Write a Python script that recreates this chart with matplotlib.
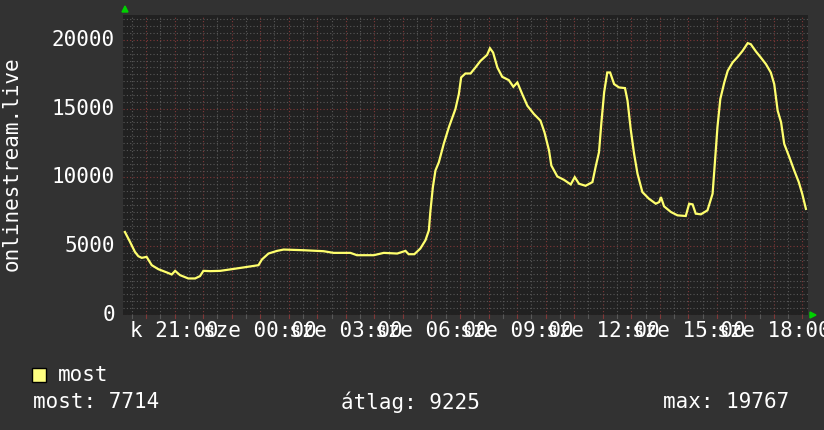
import matplotlib
matplotlib.use("Agg")
import matplotlib.pyplot as plt
from matplotlib.ticker import MultipleLocator, FixedLocator
import numpy as np

# hours relative to midnight (negative = previous day)
hours = [-4.74, -4.56, -4.39, -4.27, -4.15, -3.98, -3.80, -3.57, -3.27, -3.10,
         -2.98, -2.81, -2.52, -2.28, -2.11, -1.99, -1.75, -1.40, -0.99, -0.59,
         -0.06, 0.06, 0.29, 0.59, 0.82, 1.52, 2.22, 2.57, 3.16, 3.39,
         3.98, 4.33, 4.80, 5.09, 5.20, 5.40, 5.61, 5.79, 5.91, 5.96,
         6.05, 6.14, 6.26, 6.43, 6.61, 6.84, 6.96, 7.04, 7.19, 7.37,
         7.54, 7.72, 7.95, 8.05, 8.16, 8.31, 8.48, 8.71, 8.87, 9.01,
         9.18, 9.36, 9.59, 9.82, 9.96, 10.12, 10.20, 10.41, 10.64, 10.88,
         11.02, 11.17, 11.40, 11.64, 11.75, 11.87, 11.95, 12.05, 12.16, 12.26,
         12.40, 12.57, 12.78, 12.87, 12.98, 13.10, 13.22, 13.39, 13.62, 13.86,
         13.98, 14.04, 14.15, 14.39, 14.62, 14.91, 15.03, 15.15, 15.26, 15.44,
         15.67, 15.85, 15.94, 16.02, 16.12, 16.26, 16.38, 16.55, 16.73, 16.90,
         17.08, 17.19, 17.37, 17.54, 17.72, 17.89, 18.01, 18.13, 18.25, 18.36,
         18.54, 18.71, 18.87, 18.99, 19.12]
listeners = [6036, 5312, 4590, 4275, 4155, 4227, 3623, 3333, 3092, 2946,
             3210, 2899, 2657, 2657, 2826, 3210, 3188, 3210, 3333, 3456,
             3623, 4036, 4469, 4662, 4758, 4710, 4638, 4517, 4517, 4348,
             4348, 4517, 4469, 4662, 4420, 4420, 4831, 5435, 6159, 7488,
             9300, 10507, 11111, 12440, 13647, 14975, 16063, 17271, 17560, 17560,
             17995, 18478, 18913, 19396, 19082, 17995, 17319, 17077, 16594, 16908,
             16063, 15217, 14614, 14130, 13285, 11957, 10870, 10072, 9831, 9493,
             10024, 9541, 9396, 9662, 10749, 11836, 13889, 16184, 17633, 17633,
             16787, 16546, 16498, 15580, 13527, 11715, 10266, 8937, 8454, 8092,
             8213, 8575, 7899, 7488, 7246, 7198, 8092, 8043, 7367, 7319,
             7609, 8816, 11353, 13647, 15700, 16908, 17754, 18357, 18768, 19203,
             19767, 19686, 19155, 18720, 18237, 17633, 16787, 14855, 14009, 12440,
             11473, 10507, 9662, 8816, 7714]

tick_hours = [-3, 0, 3, 6, 9, 12, 15, 18]
tick_labels = ["k 21:00", "sze 00:00", "sze 03:00", "sze 06:00",
               "sze 09:00", "sze 12:00", "sze 15:00", "sze 18:00"]
y_ticks = [0, 5000, 10000, 15000, 20000]
y_label = "onlinestream.live"
legend_name = "most"
stat_texts = ["most: 7714", "átlag: 9225", "max: 19767"]

W, H = 824, 430
FONT = "DejaVu Sans Mono"
FS = 15
BG = "#323232"
PLOT_BG = "#212121"
LINE = "#ffff6e"

fig = plt.figure(figsize=(W / 100, H / 100), dpi=100, facecolor=BG)
L, R, T, B = 123, 808, 15, 315
ax = fig.add_axes([L / W, 1 - B / H, (R - L) / W, (B - T) / H])
ax.set_facecolor(PLOT_BG)

xmin = -4.807
xmax = xmin + 24.0
ax.set_xlim(xmin, xmax)
ax.set_ylim(0, 21812)

# grid
ax.xaxis.set_minor_locator(MultipleLocator(0.5))
ax.xaxis.set_major_locator(MultipleLocator(1.0))
ax.yaxis.set_minor_locator(MultipleLocator(500))
ax.yaxis.set_major_locator(MultipleLocator(5000))
ax.grid(which="minor", color="#585858", linestyle=(0, (1, 2)), linewidth=0.8)
ax.grid(which="major", color="#803838", linestyle=(0, (1, 2)), linewidth=0.8)
ax.set_axisbelow(True)
for s in ax.spines.values():
    s.set_visible(False)
ax.tick_params(which="both", length=0, labelbottom=False, labelleft=False)

ax.plot(hours, listeners, color=LINE, linewidth=1.6, solid_joinstyle="miter",
        zorder=3)

# axis ticks drawn as small marks
for h in np.arange(np.ceil(xmin * 2) / 2, xmax, 0.5):
    col = "#803838" if abs(h - round(h)) < 1e-6 else "#585858"
    ax.plot([h, h], [0, -250], color=col, linewidth=0.8, clip_on=False, zorder=2)

# y tick labels
for v in y_ticks:
    ax.text(-0.012, v, str(v), transform=ax.get_yaxis_transform(),
            ha="right", va="center", color="white", family=FONT, fontsize=FS)

# x tick labels (centered, overlapping as in original)
for h, lab in zip(tick_hours, tick_labels):
    fig.text((L + (h - xmin) / 24.0 * (R - L)) / W, 1 - 331 / H, lab,
             ha="center", va="center", color="white", family=FONT, fontsize=FS)

# arrows
fig.patches.append(plt.Polygon([[122 / W, 1 - 12 / H], [128 / W, 1 - 12 / H],
                                [125 / W, 1 - 6 / H]], closed=True,
                               color="#00d000", transform=fig.transFigure))
fig.patches.append(plt.Polygon([[810 / W, 1 - 312 / H], [810 / W, 1 - 318 / H],
                                [816 / W, 1 - 315 / H]], closed=True,
                               color="#00d000", transform=fig.transFigure))

# y axis label
fig.text(12 / W, 1 - 164 / H, y_label, rotation=90, ha="center", va="center",
         color="white", family=FONT, fontsize=FS)

# legend
fig.patches.append(plt.Rectangle((32 / W, 1 - 382 / H), 14 / W, 14 / H,
                                 facecolor="#ffff80", edgecolor="black",
                                 linewidth=1, transform=fig.transFigure))
fig.text(58 / W, 1 - 375 / H, legend_name, ha="left", va="center",
         color="white", family=FONT, fontsize=FS)

stat_x = [33, 341, 663]
for x, t in zip(stat_x, stat_texts):
    fig.text(x / W, 1 - 402 / H, t, ha="left", va="center", color="white",
             family=FONT, fontsize=FS)

fig.savefig("out.png", dpi=100, facecolor=BG)
